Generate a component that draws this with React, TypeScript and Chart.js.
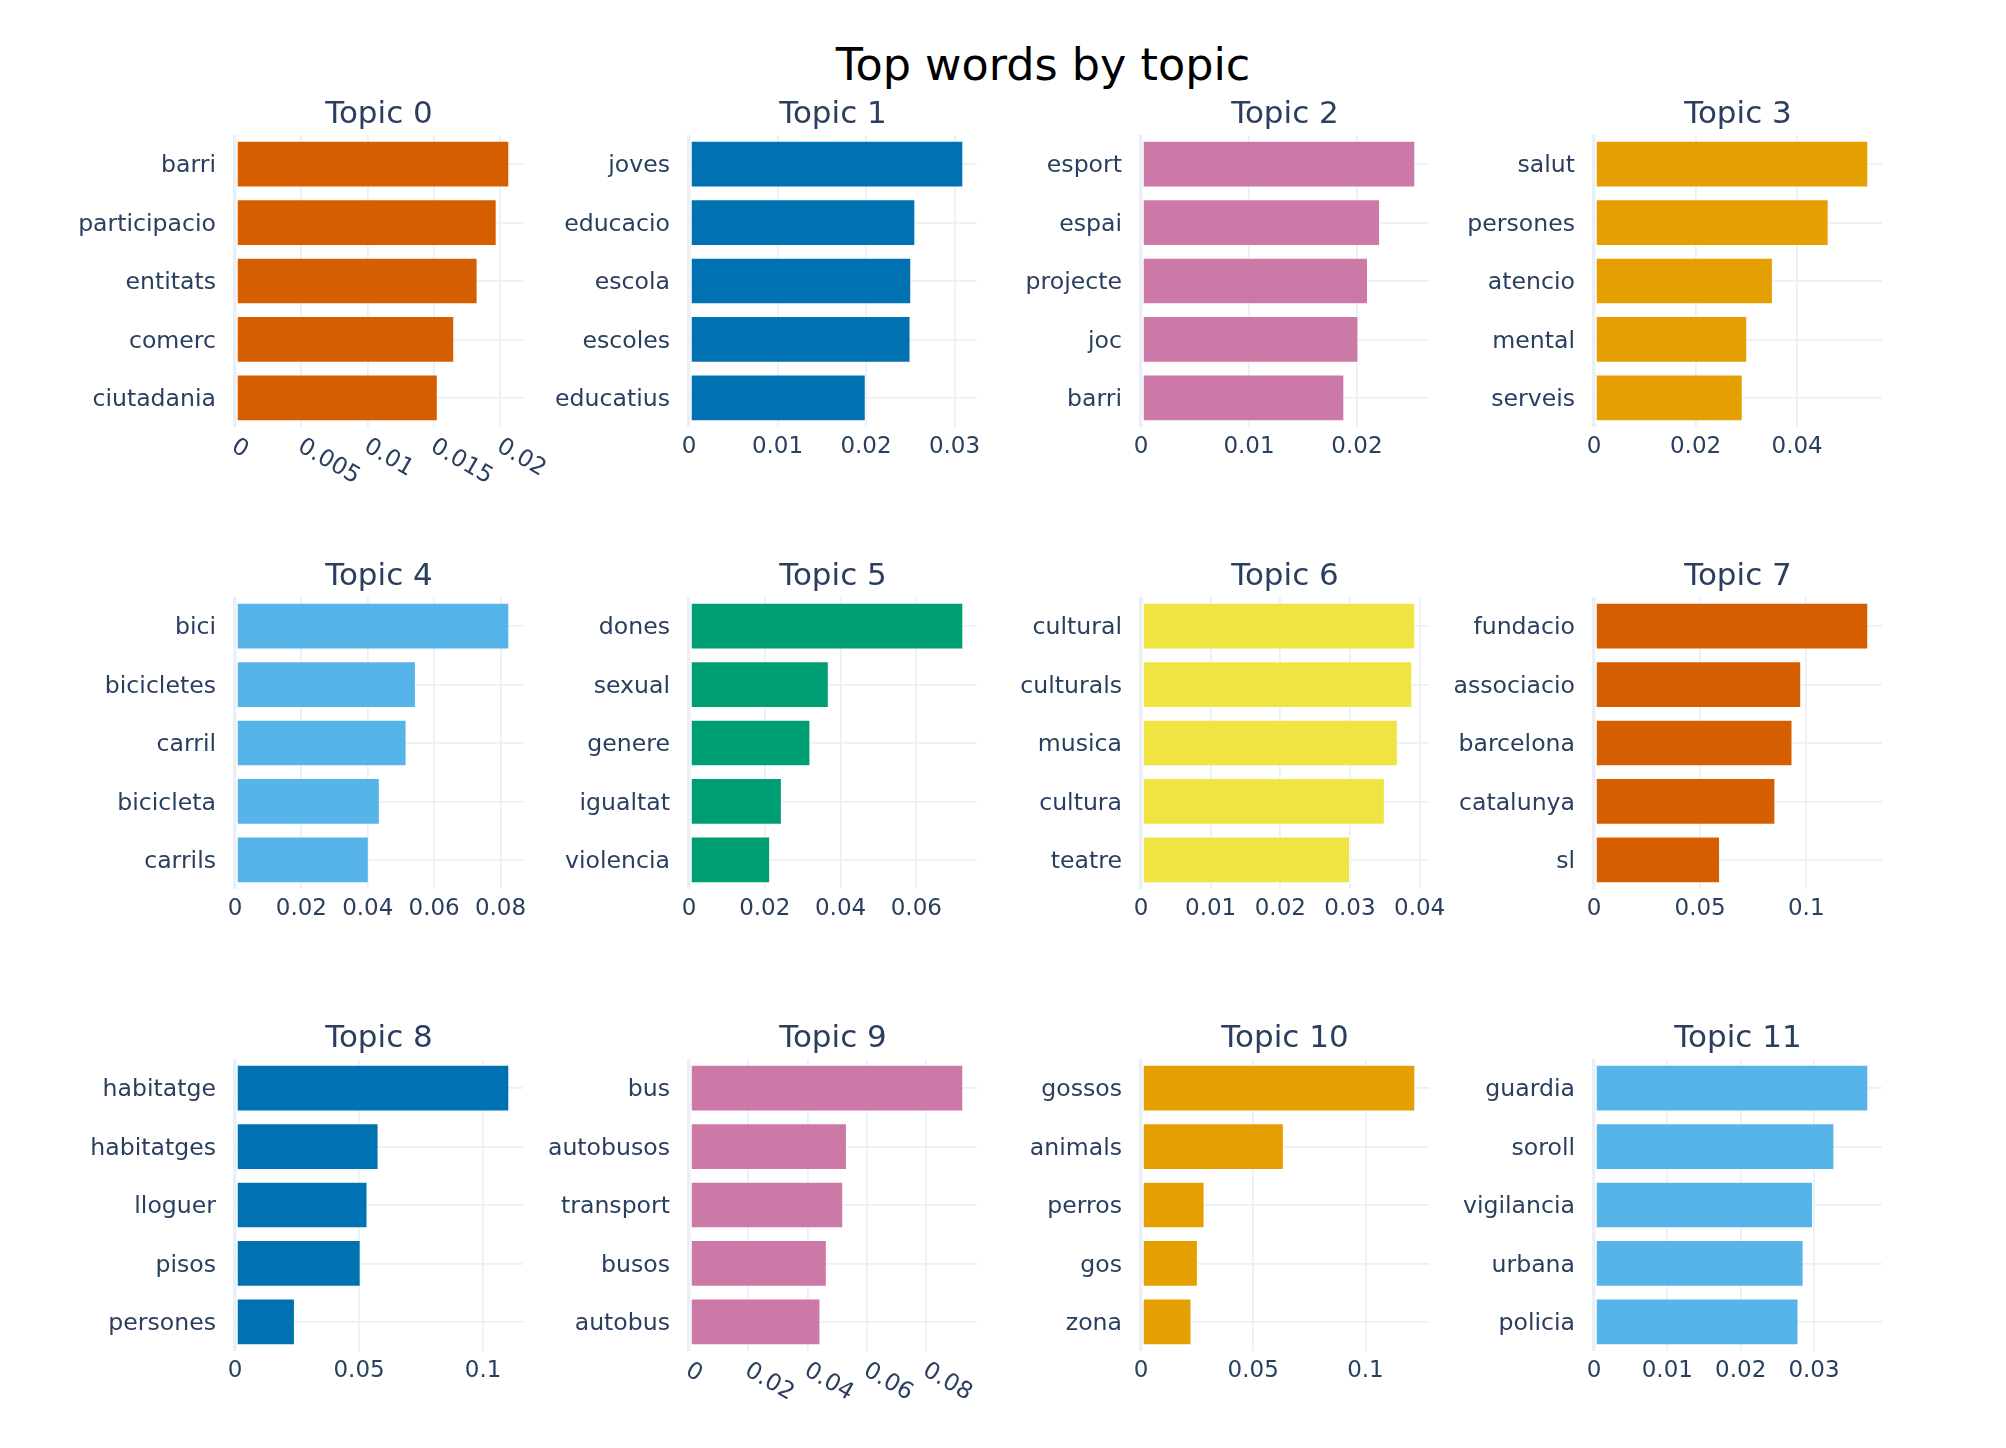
import React, { useEffect, useRef } from "react";
import { Chart, registerables } from "chart.js";

Chart.register(...registerables);

// ---------- DATA ----------
const chartTitle = "Top words by topic";

const topic0Words = ["barri", "participacio", "entitats", "comerc", "ciutadania"];
const topic0Weights = [0.02068, 0.01973, 0.01829, 0.01653, 0.01529];
const topic1Words = ["joves", "educacio", "escola", "escoles", "educatius"];
const topic1Weights = [0.03099, 0.02557, 0.02511, 0.02503, 0.01997];
const topic2Words = ["esport", "espai", "projecte", "joc", "barri"];
const topic2Weights = [0.0254, 0.02214, 0.02102, 0.02013, 0.01883];
const topic3Words = ["salut", "persones", "atencio", "mental", "serveis"];
const topic3Weights = [0.05402, 0.04622, 0.03523, 0.03018, 0.02929];
const topic4Words = ["bici", "bicicletes", "carril", "bicicleta", "carrils"];
const topic4Weights = [0.08265, 0.05452, 0.0517, 0.04364, 0.04031];
const topic5Words = ["dones", "sexual", "genere", "igualtat", "violencia"];
const topic5Weights = [0.07239, 0.0369, 0.03204, 0.02451, 0.02142];
const topic6Words = ["cultural", "culturals", "musica", "cultura", "teatre"];
const topic6Weights = [0.03938, 0.03894, 0.03688, 0.03501, 0.03001];
const topic7Words = ["fundacio", "associacio", "barcelona", "catalunya", "sl"];
const topic7Weights = [0.12923, 0.09763, 0.09352, 0.08547, 0.0594];
const topic8Words = ["habitatge", "habitatges", "lloguer", "pisos", "persones"];
const topic8Weights = [0.11053, 0.05786, 0.0534, 0.05065, 0.02415];
const topic9Words = ["bus", "autobusos", "transport", "busos", "autobus"];
const topic9Weights = [0.09243, 0.05322, 0.05197, 0.04644, 0.0443];
const topic10Words = ["gossos", "animals", "perros", "gos", "zona"];
const topic10Weights = [0.1222, 0.06364, 0.02832, 0.02534, 0.0225];
const topic11Words = ["guardia", "soroll", "vigilancia", "urbana", "policia"];
const topic11Weights = [0.0374, 0.03278, 0.02986, 0.02858, 0.02789];

const topicNames = ["Topic 0", "Topic 1", "Topic 2", "Topic 3", "Topic 4", "Topic 5",
  "Topic 6", "Topic 7", "Topic 8", "Topic 9", "Topic 10", "Topic 11"];
const tickSteps = [0.005, 0.01, 0.01, 0.02, 0.02, 0.02, 0.01, 0.05, 0.05, 0.02, 0.05, 0.01];

const topicWords = [topic0Words, topic1Words, topic2Words, topic3Words, topic4Words, topic5Words,
  topic6Words, topic7Words, topic8Words, topic9Words, topic10Words, topic11Words];
const topicWeights = [topic0Weights, topic1Weights, topic2Weights, topic3Weights, topic4Weights, topic5Weights,
  topic6Weights, topic7Weights, topic8Weights, topic9Weights, topic10Weights, topic11Weights];

// ---------- STYLE / LAYOUT ----------
const barColors = ["#D55E00", "#0072B2", "#CC79A7", "#E69F00", "#56B4E9", "#009E73",
  "#F0E442", "#D55E00", "#0072B2", "#CC79A7", "#E69F00", "#56B4E9"];
const FONT = '"DejaVu Sans", Verdana, sans-serif';
const TEXT = "#2a3f5f";
const GRID = "#EBF0F8";
const PLOT_LEFT = [235, 689, 1141, 1594];
const PLOT_TOP = [135, 597, 1059];
const PLOT_W = 288;
const PLOT_H = 292;
const PAD_L = 230;
const PAD_T = 60;
const PAD_R = 60;
const PAD_B = 100;
const ROTATED = new Set([0, 9]);

const fmt = (v: number) => String(Number(Number(v).toFixed(6)));

function Panel({ idx }: { idx: number }) {
  const ref = useRef<HTMLCanvasElement | null>(null);
  const col = idx % 4;
  const row = Math.floor(idx / 4);
  const W = PAD_L + PLOT_W + PAD_R;
  const H = PAD_T + PLOT_H + PAD_B;

  useEffect(() => {
    const canvas = ref.current;
    if (!canvas) return;
    const weights = topicWeights[idx];
    const rotated = ROTATED.has(idx);
    const xMax = Math.max(...weights) * 1.05;

    const deco = {
      id: "deco",
      afterDraw(chart: any) {
        const ctx = chart.ctx;
        const ca = chart.chartArea;
        ctx.save();
        ctx.fillStyle = TEXT;
        ctx.font = `31px ${FONT}`;
        ctx.textAlign = "center";
        ctx.textBaseline = "alphabetic";
        ctx.fillText(topicNames[idx], (ca.left + ca.right) / 2, ca.top - 12);
        if (rotated) {
          const sx = chart.scales.x;
          ctx.font = `23.5px ${FONT}`;
          ctx.textAlign = "left";
          ctx.textBaseline = "middle";
          for (const t of sx.ticks) {
            const px = sx.getPixelForValue(t.value);
            ctx.save();
            ctx.translate(px, ca.bottom + 19);
            ctx.rotate(Math.PI / 6);
            ctx.fillText(fmt(t.value), -2, 0);
            ctx.restore();
          }
        }
        ctx.restore();
      },
    };

    const chart = new Chart(canvas, {
      type: "bar",
      data: {
        labels: topicWords[idx],
        datasets: [
          {
            data: weights,
            backgroundColor: barColors[idx],
            borderColor: "rgba(255,255,255,0.55)",
            borderWidth: 1,
            borderSkipped: false,
            barPercentage: 0.8,
            categoryPercentage: 1,
          },
        ],
      },
      options: {
        indexAxis: "y",
        animation: false,
        responsive: false,
        maintainAspectRatio: false,
        layout: { padding: { left: 0, top: PAD_T, right: PAD_R, bottom: 0 } },
        plugins: {
          legend: { display: false },
          tooltip: { enabled: false },
          title: { display: false },
        },
        scales: {
          x: {
            type: "linear",
            min: 0,
            max: xMax,
            afterFit: (s: any) => {
              s.height = PAD_B;
            },
            border: { display: false },
            grid: {
              color: GRID,
              lineWidth: (c: any) => (c.tick && c.tick.value === 0 ? 3.5 : 1.8),
              drawTicks: false,
            },
            ticks: {
              stepSize: tickSteps[idx],
              includeBounds: false,
              display: !rotated,
              color: TEXT,
              font: { family: FONT, size: 23 },
              padding: 6,
              maxRotation: 0,
              minRotation: 0,
              autoSkip: false,
              callback: (v: any) => fmt(v),
            },
          },
          y: {
            afterFit: (s: any) => {
              s.width = PAD_L;
            },
            border: { display: false },
            grid: { color: GRID, lineWidth: 1.8, drawTicks: false, offset: false },
            ticks: {
              color: TEXT,
              font: { family: FONT, size: 23.6 },
              padding: 19,
              labelOffset: 2,
              autoSkip: false,
            },
          },
        },
      },
      plugins: [deco],
    } as any);
    return () => chart.destroy();
  }, [idx]);

  return (
    <canvas
      ref={ref}
      width={W}
      height={H}
      style={{
        position: "absolute",
        left: PLOT_LEFT[col] - PAD_L,
        top: PLOT_TOP[row] - PAD_T,
        width: W,
        height: H,
      }}
    />
  );
}

export default function App() {
  return (
    <div
      style={{
        position: "absolute",
        left: 0,
        top: 0,
        width: 2006,
        height: 1448,
        background: "#ffffff",
        overflow: "hidden",
      }}
    >
      <div
        style={{
          position: "absolute",
          left: 1043 - 600,
          top: 43,
          width: 1200,
          textAlign: "center",
          fontFamily: FONT,
          fontSize: 44.5,
          lineHeight: "44px",
          color: "#000000",
          whiteSpace: "nowrap",
        }}
      >
        {chartTitle}
      </div>
      {topicNames.map((_, i) => (
        <Panel key={i} idx={i} />
      ))}
    </div>
  );
}
